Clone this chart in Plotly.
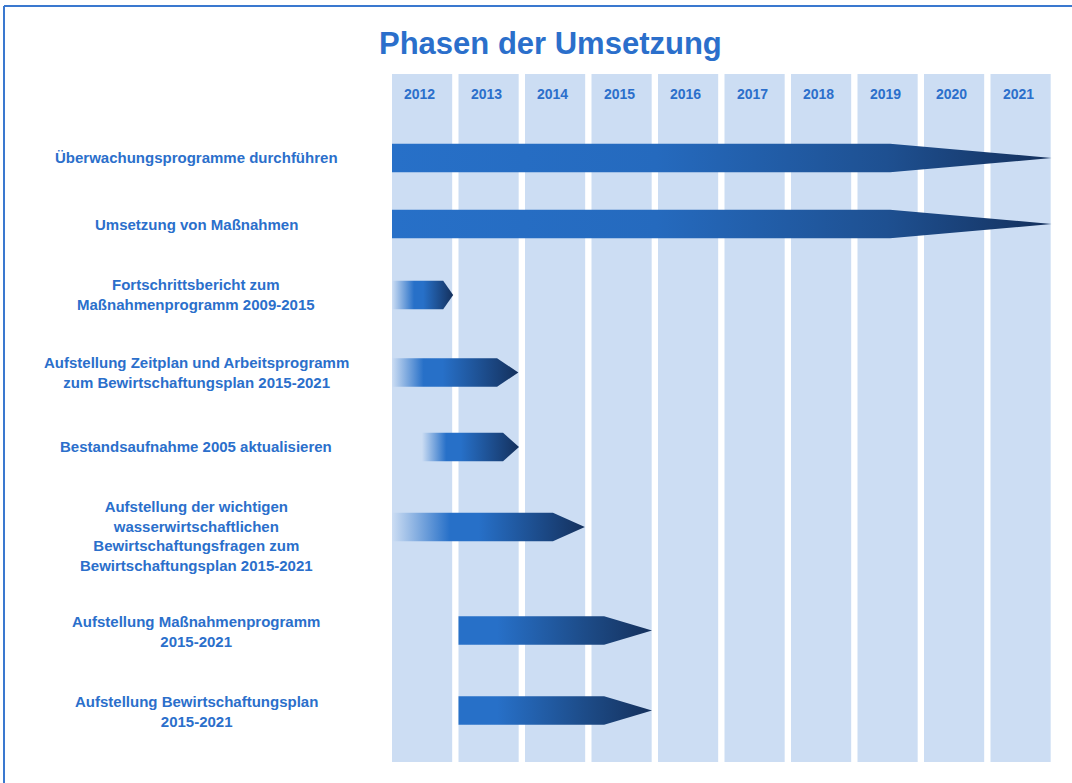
import plotly.graph_objects as go

# ---------------- data ----------------
years = [2012, 2013, 2014, 2015, 2016, 2017, 2018, 2019, 2020, 2021]
tasks = [
    "Überwachungsprogramme durchführen",
    "Umsetzung von Maßnahmen",
    "Fortschrittsbericht zum<br>Maßnahmenprogramm 2009-2015",
    "Aufstellung Zeitplan und Arbeitsprogramm<br>zum Bewirtschaftungsplan 2015-2021",
    "Bestandsaufnahme 2005 aktualisieren",
    "Aufstellung der wichtigen<br>wasserwirtschaftlichen<br>Bewirtschaftungsfragen zum<br>Bewirtschaftungsplan 2015-2021",
    "Aufstellung Maßnahmenprogramm<br>2015-2021",
    "Aufstellung Bewirtschaftungsplan<br>2015-2021",
]
task_start = [2012.0, 2012.0, 2012.0, 2012.0, 2012.45, 2012.0, 2013.0, 2013.0]
task_body_end = [2019.49, 2019.49, 2012.77, 2013.58, 2013.67, 2014.42, 2015.19, 2015.19]
task_end = [2021.92, 2021.92, 2012.92, 2013.90, 2013.91, 2014.90, 2015.91, 2015.91]
title_text = "Phasen der Umsetzung"

# ---------------- layout / style ----------------
W, H = 1072, 783
PX_PER_YEAR = 66.5
X0_PX = 392  # pixel of 2012.0
x_min = 2012 - X0_PX / PX_PER_YEAR
x_max = x_min + W / PX_PER_YEAR

bar_y_px = [158, 224, 295, 372.5, 447, 527, 630.5, 710.5]
label_y_px = [157, 224, 294, 372, 446, 536, 631, 711]
fade_in = [0, 0, 0.36, 0.25, 0.25, 0.30, 0, 0]
BAR_HALF = 14.2

TEXT_BLUE = "#2B6FCB"
COL_FILL = "#CCDDF3"
BLUE = "rgb(39,112,200)"
DARK = "rgb(20,48,92)"
FONT = "Liberation Sans, Arial, sans-serif"

fig = go.Figure()

# arrows
for i in range(len(tasks)):
    s, b, e = task_start[i], task_body_end[i], task_end[i]
    c = bar_y_px[i]
    xs = [s, b, e, b, s, s]
    ys = [c - BAR_HALF, c - BAR_HALF, c, c + BAR_HALF, c + BAR_HALF, c - BAR_HALF]
    f = fade_in[i]
    if i < 2:
        cs = [[0, BLUE], [0.4, "rgb(37,106,190)"], [0.75, "rgb(30,80,145)"], [1, DARK]]
    elif f > 0:
        cs = [[0, "rgba(39,112,200,0.0)"], [f * 0.45, "rgba(39,112,200,0.45)"], [f, BLUE],
              [min(f + 0.15, 0.6), BLUE], [1, DARK]]
    else:
        cs = [[0, BLUE], [0.2, BLUE], [0.7, "rgb(28,72,130)"], [1, DARK]]
    fig.add_trace(go.Scatter(
        x=xs, y=ys, mode="lines", fill="toself",
        fillgradient=dict(type="horizontal", colorscale=cs),
        line=dict(width=0, color="rgba(0,0,0,0)"),
        hoverinfo="skip", showlegend=False,
    ))

# year columns
for yr in years:
    fig.add_shape(type="rect", xref="x", yref="y", x0=yr, x1=yr + 0.905, y0=74, y1=762,
                  fillcolor=COL_FILL, line=dict(width=0), layer="below")
    fig.add_annotation(x=yr + 0.42, y=94, xref="x", yref="y", text=str(yr), showarrow=False,
                       font=dict(family=FONT, size=14, color=TEXT_BLUE, weight="bold"),
                       xanchor="center", yanchor="middle")

# labels
for i, t in enumerate(tasks):
    fig.add_annotation(x=196 / W, y=label_y_px[i], xref="paper", yref="y", text=t,
                       showarrow=False, align="center",
                       font=dict(family=FONT, size=15, color=TEXT_BLUE, weight="bold"),
                       xanchor="center", yanchor="middle")

# title
fig.add_annotation(x=550 / W, y=43, xref="paper", yref="y", text=title_text, showarrow=False,
                   font=dict(family=FONT, size=31, color=TEXT_BLUE, weight="bold"),
                   xanchor="center", yanchor="middle")

# frame lines (top and left)
fig.add_shape(type="line", xref="paper", yref="y", x0=4 / W, x1=1.0, y0=6, y1=6,
              line=dict(color="#3A78CF", width=2))
fig.add_shape(type="line", xref="paper", yref="y", x0=4 / W, x1=4 / W, y0=6, y1=H,
              line=dict(color="#3A78CF", width=2))

fig.update_layout(
    width=W, height=H,
    margin=dict(l=0, r=0, t=0, b=0),
    paper_bgcolor="white", plot_bgcolor="white",
    xaxis=dict(range=[x_min, x_max], visible=False, fixedrange=True),
    yaxis=dict(range=[H, 0], visible=False, fixedrange=True),
    showlegend=False,
)

fig.write_html("out.html", post_script="document.body.style.margin='0';",
               config={"displayModeBar": False})
